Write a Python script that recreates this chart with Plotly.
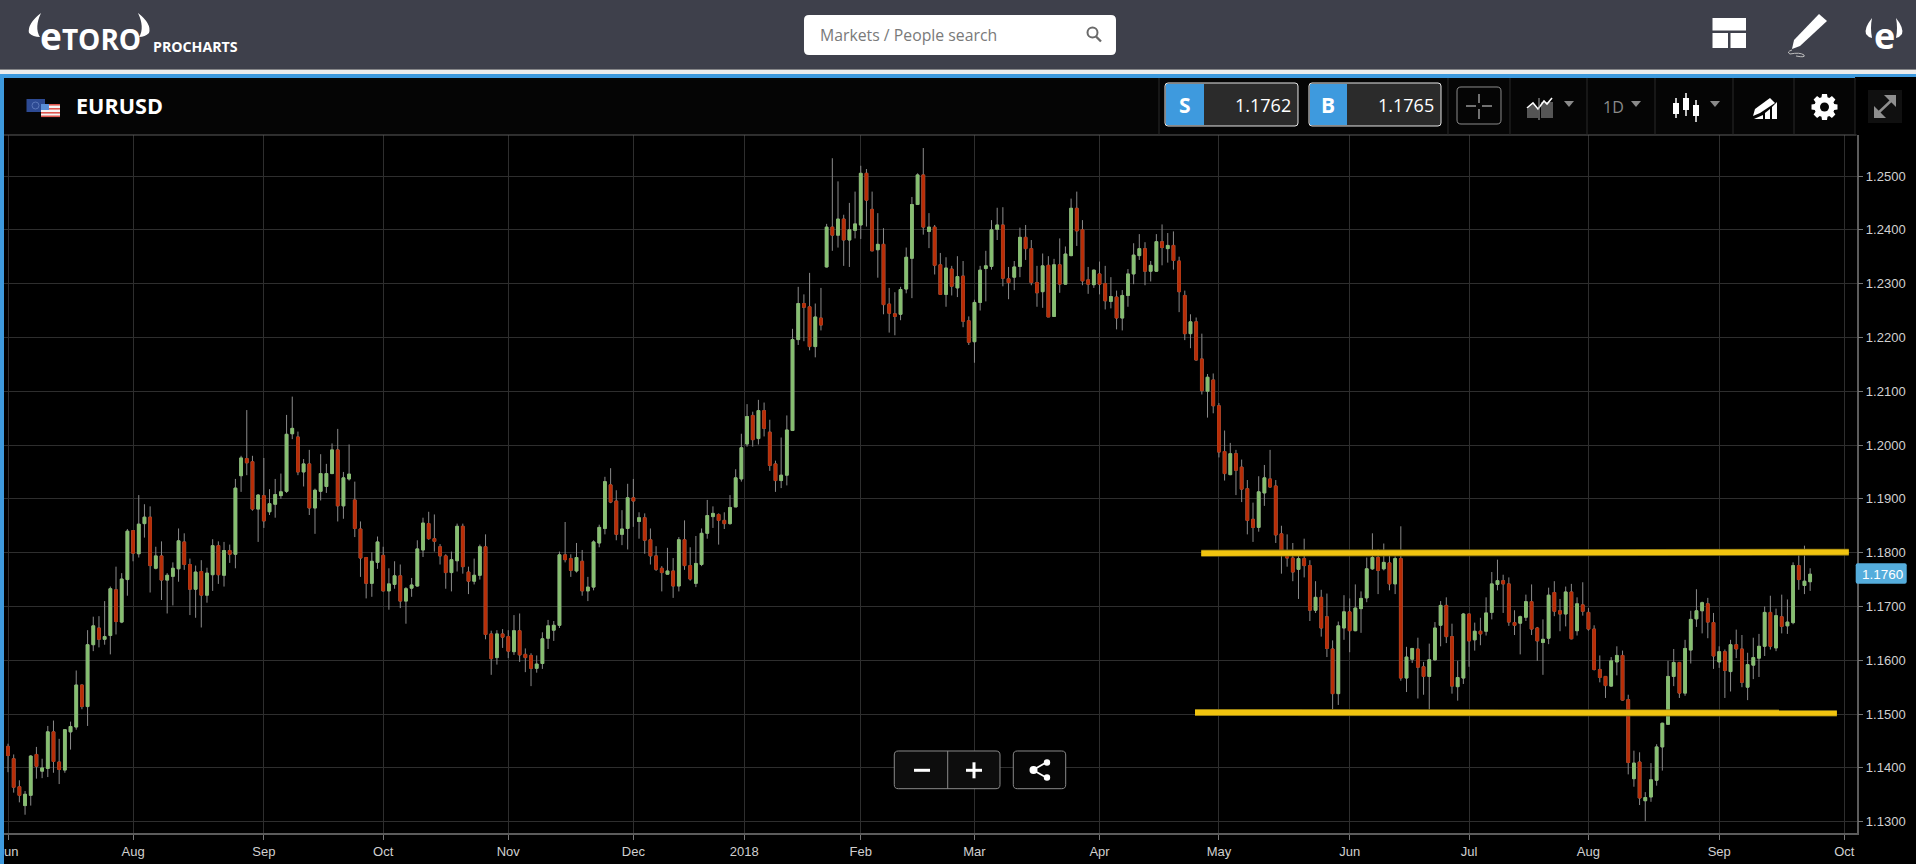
import math
import re
import plotly.graph_objects as go

# ---------- data (EURUSD daily, prices in 1/10000) ----------
OPEN = [
 11440,11417,11365,11330,11349,11425,11394,11399,11467,11411,
 11396,11467,11476,11554,11514,11629,11660,11639,11646,11731,
 11671,11750,11841,11798,11854,11866,11771,11794,11749,11756,
 11770,11820,11778,11732,11765,11721,11759,11813,11758,11804,
 11797,11943,11975,11969,11881,11906,11876,11890,11906,11914,
 12021,12015,11950,11965,11883,11914,11923,11947,11991,11887,
 11937,11898,11844,11791,11743,11782,11795,11729,11741,11757,
 11710,11734,11738,11805,11854,11826,11811,11794,11763,11785,
 11849,11764,11747,11758,11811,11649,11605,11649,11644,11616,
 11655,11611,11609,11585,11594,11641,11656,11665,11796,11789,
 11766,11784,11729,11736,11818,11845,11926,11896,11834,11845,
 11902,11858,11865,11824,11794,11771,11760,11766,11738,11824,
 11776,11743,11778,11836,11867,11871,11860,11854,11885,11937,
 12002,12055,12012,12064,12024,11965,11934,11944,12027,12196,
 12263,12257,12183,12236,12331,12405,12390,12420,12381,12399,
 12409,12505,12438,12363,12373,12262,12244,12243,12290,12347,
 12447,12502,12397,12405,12335,12280,12327,12292,12314,12231,
 12192,12265,12328,12332,12401,12409,12309,12312,12332,12386,
 12365,12302,12285,12334,12239,12335,12299,12352,12440,12400,
 12307,12298,12318,12300,12267,12275,12236,12278,12318,12352,
 12365,12323,12323,12378,12365,12371,12342,12278,12207,12229,
 12160,12100,12121,12073,11988,11945,11984,11959,11919,11862,
 11847,11911,11937,11924,11835,11803,11790,11769,11789,11776,
 11693,11717,11681,11621,11538,11660,11690,11655,11696,11716,
 11770,11791,11770,11781,11742,11789,11567,11602,11621,11588,
 11570,11601,11665,11702,11644,11551,11567,11686,11638,11654,
 11654,11689,11741,11748,11742,11670,11669,11680,11709,11660,
 11633,11641,11726,11692,11686,11727,11655,11703,11689,11658,
 11583,11570,11552,11597,11609,11527,11380,11411,11339,11346,
 11377,11439,11481,11570,11596,11539,11619,11677,11692,11705,
 11670,11597,11616,11579,11629,11621,11550,11591,11604,11626,
 11689,11623,11681,11664,11670,11776,11739,11746]
HIGH = [
 11445,11425,11377,11357,11424,11439,11417,11478,11488,11454,
 11472,11486,11581,11555,11656,11681,11682,11710,11737,11774,
 11762,11844,11842,11907,11890,11886,11811,11821,11762,11782,
 11845,11836,11789,11776,11786,11772,11825,11821,11820,11815,
 11937,11980,12065,11980,11909,11976,11918,11937,11947,12056,
 12090,12025,11974,11991,11919,11983,11965,12003,12030,11950,
 12001,11932,11858,11792,11801,11830,11811,11771,11784,11778,
 11736,11753,11823,11865,11876,11871,11816,11797,11802,11854,
 11854,11774,11789,11815,11834,11655,11656,11658,11656,11684,
 11687,11622,11613,11609,11652,11675,11673,11802,11857,11797,
 11818,11805,11755,11823,11852,11941,11957,11916,11879,11928,
 11937,11875,11873,11845,11812,11775,11809,11790,11829,11860,
 11810,11831,11845,11898,11886,11873,11875,11907,11955,12021,
 12076,12062,12084,12079,12047,11971,12014,12055,12216,12294,
 12280,12320,12263,12292,12411,12533,12490,12428,12450,12471,
 12519,12513,12471,12431,12403,12292,12284,12294,12367,12461,
 12505,12552,12431,12409,12357,12349,12333,12351,12342,12239,
 12270,12333,12361,12418,12441,12442,12331,12342,12404,12409,
 12381,12333,12356,12351,12346,12384,12369,12458,12471,12418,
 12331,12326,12341,12333,12312,12287,12288,12327,12375,12392,
 12377,12342,12392,12410,12394,12397,12350,12287,12243,12237,
 12207,12132,12133,12078,12027,12004,11991,11973,11935,11893,
 11942,11963,11991,11935,11850,11834,11818,11799,11826,11786,
 11747,11731,11724,11637,11672,11721,11715,11741,11728,11791,
 11836,11806,11817,11805,11793,11849,11625,11622,11642,11597,
 11631,11671,11710,11717,11668,11599,11688,11686,11670,11679,
 11717,11764,11787,11759,11754,11693,11683,11722,11741,11662,
 11676,11735,11747,11714,11737,11742,11717,11745,11697,11665,
 11609,11570,11606,11626,11618,11536,11432,11429,11355,11409,
 11444,11484,11599,11621,11597,11638,11692,11732,11709,11716,
 11688,11626,11620,11638,11657,11647,11614,11642,11649,11700,
 11720,11696,11722,11713,11782,11800,11813,11771]
LOW = [
 11392,11354,11336,11313,11330,11380,11381,11383,11391,11370,
 11391,11434,11471,11509,11478,11617,11624,11629,11611,11648,
 11669,11720,11784,11791,11828,11726,11769,11712,11687,11702,
 11746,11768,11684,11679,11661,11707,11729,11742,11737,11781,
 11771,11913,11944,11878,11820,11846,11870,11865,11900,11911,
 12011,11944,11923,11870,11835,11897,11911,11946,11858,11863,
 11934,11829,11755,11715,11718,11770,11728,11694,11733,11697,
 11668,11718,11737,11792,11824,11802,11778,11733,11728,11765,
 11761,11723,11741,11750,11639,11573,11592,11623,11604,11610,
 11597,11578,11552,11577,11584,11621,11636,11660,11782,11755,
 11763,11720,11710,11730,11810,11834,11892,11823,11814,11806,
 11848,11826,11798,11778,11766,11728,11760,11716,11728,11768,
 11748,11736,11775,11826,11846,11815,11844,11852,11885,11932,
 11997,11997,12001,12016,11952,11913,11920,11925,12026,12186,
 12193,12176,12163,12213,12330,12361,12367,12333,12331,12384,
 12383,12406,12360,12311,12243,12209,12204,12232,12282,12273,
 12446,12391,12366,12317,12279,12257,12278,12275,12219,12186,
 12153,12250,12267,12326,12381,12295,12271,12288,12312,12344,
 12297,12257,12255,12238,12238,12283,12298,12351,12370,12297,
 12281,12292,12280,12252,12254,12215,12213,12257,12299,12344,
 12297,12304,12322,12334,12339,12326,12247,12195,12180,12157,
 12094,12051,12059,11977,11934,11944,11907,11894,11834,11820,
 11839,11887,11921,11818,11761,11774,11747,11714,11754,11673,
 11688,11644,11606,11508,11517,11638,11615,11654,11651,11708,
 11768,11723,11767,11730,11723,11562,11541,11595,11529,11536,
 11508,11599,11626,11632,11538,11525,11556,11588,11618,11628,
 11646,11676,11730,11688,11664,11647,11611,11673,11647,11599,
 11573,11630,11682,11654,11663,11639,11646,11683,11655,11581,
 11559,11530,11551,11572,11525,11388,11365,11331,11301,11337,
 11367,11395,11480,11552,11530,11534,11594,11662,11650,11641,
 11584,11586,11530,11542,11604,11550,11526,11565,11569,11608,
 11620,11617,11650,11649,11667,11731,11723,11729]
CLOSE = [
 11423,11364,11349,11351,11422,11403,11400,11467,11412,11397,
 11471,11477,11554,11514,11629,11664,11639,11644,11733,11672,
 11751,11840,11799,11853,11866,11776,11794,11749,11758,11771,
 11822,11778,11732,11764,11721,11762,11813,11759,11804,11797,
 11920,11976,11967,11881,11907,11859,11891,11908,11913,12020,
 12031,11950,11965,11883,11916,11947,11947,11991,11887,11939,
 11946,11845,11790,11743,11784,11820,11729,11742,11757,11710,
 11733,11740,11807,11855,11826,11821,11794,11763,11787,11849,
 11774,11747,11758,11811,11648,11603,11649,11643,11617,11655,
 11610,11605,11585,11593,11640,11664,11665,11796,11787,11767,
 11791,11729,11736,11820,11847,11932,11894,11834,11844,11902,
 11896,11865,11823,11794,11769,11763,11766,11738,11824,11776,
 11751,11780,11836,11869,11873,11860,11854,11884,11939,11995,
 12053,12010,12064,12031,11962,11934,11944,12028,12196,12263,
 12256,12183,12238,12223,12405,12390,12420,12381,12400,12411,
 12505,12455,12361,12373,12261,12245,12239,12289,12349,12447,
 12502,12405,12405,12334,12280,12329,12295,12313,12230,12191,
 12265,12325,12333,12400,12409,12310,12302,12331,12386,12365,
 12302,12283,12333,12238,12335,12299,12355,12440,12398,12305,
 12299,12325,12299,12268,12276,12236,12278,12318,12353,12365,
 12323,12334,12378,12367,12371,12343,12285,12207,12229,12158,
 12101,12126,12073,11987,11947,11984,11953,11918,11860,11847,
 11913,11939,11922,11833,11804,11790,11764,11789,11776,11693,
 11717,11660,11622,11538,11664,11690,11655,11697,11715,11770,
 11791,11767,11782,11742,11789,11567,11606,11622,11587,11570,
 11601,11660,11702,11644,11552,11568,11686,11636,11654,11649,
 11688,11742,11748,11742,11671,11665,11681,11709,11658,11636,
 11639,11721,11691,11686,11727,11640,11705,11691,11658,11583,
 11568,11553,11599,11609,11526,11410,11409,11344,11345,11378,
 11439,11483,11570,11596,11539,11622,11676,11692,11707,11671,
 11608,11616,11581,11629,11621,11559,11592,11605,11626,11689,
 11626,11683,11663,11671,11776,11750,11747,11760]

X_TICK_BARS = [0, 22, 45, 66, 88, 110, 129.5, 150, 170, 192, 213, 236, 257, 278, 301, 323]
X_TICK_LABELS = ["Jun", "Aug", "Sep", "Oct", "Nov", "Dec", "2018", "Feb", "Mar", "Apr",
                 "May", "Jun", "Jul", "Aug", "Sep", "Oct"]
Y_TICKS = [1.13, 1.14, 1.15, 1.16, 1.17, 1.18, 1.19, 1.20, 1.21, 1.22, 1.23, 1.24, 1.25]
RES_BARS, RES_PRICES = [209.9, 323.8], [1.1799, 1.1801]
SUP_BARS, SUP_PRICES = [208.8, 321.7], [1.1503, 1.1502]
LAST_PRICE = 1.1760
SELL, BUY = "1.1762", "1.1765"

# ---------- page geometry ----------
W, H = 1916, 864
PLOT_L, PLOT_R, PLOT_T, PLOT_B = 4, 1856.5, 135, 833.3
BAR_PX, BAR0_PX = 5.685, 8.0
Y_PX_PER_UNIT, Y125_PX = 53810 / 10, 176.0

GREEN, RED, WICK = "#86bf70", "#b92d06", "#8a8a8a"
GRID, AXIS = "#2e2e2e", "#5c5c5c"
BLUE = "#3e9ade"
HEAD = "#3e404b"
YELLOW = "#f1c40f"

px2val = lambda y: 1.25 - (y - Y125_PX) / Y_PX_PER_UNIT
px2bar = lambda x: (x - BAR0_PX) / BAR_PX

opens = [v / 1e4 for v in OPEN]
highs = [v / 1e4 for v in HIGH]
lows = [v / 1e4 for v in LOW]
closes = [v / 1e4 for v in CLOSE]
bars = list(range(len(opens)))
tops = [max(a, b) for a, b in zip(opens, closes)]
bots = [min(a, b) for a, b in zip(opens, closes)]

fig = go.Figure()
# full range candles give the grey wicks, body-only candles sit on top of them
fig.add_trace(go.Candlestick(
    x=bars, open=opens, high=highs, low=lows, close=closes, whiskerwidth=0,
    increasing=dict(line=dict(color=WICK, width=1), fillcolor=WICK),
    decreasing=dict(line=dict(color=WICK, width=1), fillcolor=WICK), hoverinfo="skip"))
fig.add_trace(go.Candlestick(
    x=bars, open=opens, high=tops, low=bots, close=closes, whiskerwidth=0,
    increasing=dict(line=dict(color=GREEN, width=0.8), fillcolor=GREEN),
    decreasing=dict(line=dict(color=RED, width=0.8), fillcolor=RED), hoverinfo="skip"))
for xs, ys in ((RES_BARS, RES_PRICES), (SUP_BARS, SUP_PRICES)):
    fig.add_trace(go.Scatter(x=xs, y=ys, mode="lines", line=dict(color="#7d6a12", width=7), hoverinfo="skip"))
    fig.add_trace(go.Scatter(x=xs, y=ys, mode="lines", line=dict(color=YELLOW, width=5.4), hoverinfo="skip"))

# ---------- page furniture helpers ----------
shapes, notes = [], []

def fx(x): return x / W
def fy(y): return 1 - y / H

def rect(x0, y0, x1, y1, fill=None, line=None, lw=1):
    shapes.append(dict(type="rect", xref="paper", yref="paper", x0=fx(x0), x1=fx(x1), y0=fy(y0), y1=fy(y1),
                       fillcolor=fill or "rgba(0,0,0,0)",
                       line=dict(color=line or "rgba(0,0,0,0)", width=lw if line else 0), layer="above"))

def path(d, fill=None, line=None, lw=1):
    toks = re.findall(r"[A-Za-z]|-?\d+\.?\d*", d)
    out, isx = [], True
    for t in toks:
        if t.isalpha():
            out.append(t); isx = True
        else:
            v = float(t)
            out.append(f"{fx(v):.5f}" if isx else f"{fy(v):.5f}")
            isx = not isx
    shapes.append(dict(type="path", xref="paper", yref="paper", path=" ".join(out),
                       fillcolor=fill or "rgba(0,0,0,0)",
                       line=dict(color=line or "rgba(0,0,0,0)", width=lw if line else 0), layer="above"))

def rrect(x0, y0, x1, y1, r=4, fill=None, line=None, lw=1):
    path(f"M {x0+r} {y0} L {x1-r} {y0} Q {x1} {y0} {x1} {y0+r} L {x1} {y1-r} Q {x1} {y1} {x1-r} {y1} "
         f"L {x0+r} {y1} Q {x0} {y1} {x0} {y1-r} L {x0} {y0+r} Q {x0} {y0} {x0+r} {y0} Z", fill, line, lw)

def seg(x0, y0, x1, y1, color, lw=1):
    path(f"M {x0} {y0} L {x1} {y1}", None, color, lw)

def circle(cx, cy, r, fill=None, line=None, lw=1):
    shapes.append(dict(type="circle", xref="paper", yref="paper", x0=fx(cx - r), x1=fx(cx + r),
                       y0=fy(cy - r), y1=fy(cy + r), fillcolor=fill or "rgba(0,0,0,0)",
                       line=dict(color=line or "rgba(0,0,0,0)", width=lw if line else 0), layer="above"))

def text(x, y, s, size, color="#ffffff", anchor="left", bold=False, family="Open Sans"):
    notes.append(dict(xref="paper", yref="paper", x=fx(x), y=fy(y), text=f"<b>{s}</b>" if bold else s,
                      showarrow=False, xanchor=anchor, yanchor="middle",
                      font=dict(size=size, color=color, family=family), borderpad=0, borderwidth=0))

# top bar and stripes
rect(0, 0, W, 69.5, HEAD)
rect(0, 69.5, W, 74, "#ececec")
rect(0, 74, W, 78, BLUE)
rect(0, 78, W, 135, "#050505")
rect(1855, 77, W, 135, "#000000")
rect(0, 74, 4, H, BLUE)
seg(4, 135, PLOT_R, 135, AXIS, 1)

# logo
text(40, 35, "<span style='font-size:37px'>e</span>TORO", 28, "#ffffff", "left", True)
path("M 41 13 Q 27 24 29 33 Q 33 37 40 37 Q 34 28 41 13 Z", "#ffffff")
path("M 138 13 Q 152 24 149 33 Q 145 37 139 37 Q 145 28 138 13 Z", "#ffffff")
text(153, 47, "PROCHARTS", 14.2, "#ffffff", "left", True)

# search box
rrect(804, 15, 1116, 55, 5, "#ffffff")
text(820, 34.5, "Markets / People search", 15.8, "#7a7a7a")
circle(1092.5, 32.5, 5, None, "#6a6a6a", 2)
seg(1096, 36.5, 1101, 41.5, "#6a6a6a", 2.4)

# right hand header icons
rect(1712.5, 18, 1746, 30.5, "#ffffff")
rect(1712.5, 33, 1728, 48, "#ffffff")
rect(1730.5, 33, 1746, 48, "#ffffff")
path("M 1819 14 L 1827 21 L 1800 46 L 1792 49 L 1794 40 Z", "#ffffff")
path("M 1792 50 Q 1786 52 1790 54 Q 1800 52 1804 55 Q 1806 58 1796 56", None, "#bdbdbd", 1)
text(1884, 35, "e", 36, "#ffffff", "center", True)
path("M 1872 18 Q 1864 28 1866 34 Q 1868 37 1872 38 Q 1870 28 1872 18 Z", "#ffffff")
path("M 1896 18 Q 1904 28 1902 34 Q 1900 37 1896 38 Q 1898 28 1896 18 Z", "#ffffff")

# symbol and flags
rect(26.5, 99, 45, 112, "#2d4a93")
circle(35.5, 105.5, 3.5, None, "#5a76b8", 1)
rect(41, 104, 60, 117, "#f5f5f5")
for yy in (104, 108, 112, 115.5):
    rect(41, yy, 60, yy + 1.6, "#e0574f")
rect(41, 104, 49, 110, "#5b8fd8")
text(76, 105.5, "EURUSD", 21.6, "#ffffff", "left", True)

# sell / buy boxes
for x0, x1, mid, lab, val in ((1165, 1298, 1204, "S", SELL), (1309, 1441, 1347, "B", BUY)):
    rrect(x0, 83, x1, 126, 3, "#2b2b2b", "#e6e6e6", 1)
    rect(x0 + 1, 84, mid, 125, BLUE)
    text((x0 + mid) / 2, 105, lab, 21, "#ffffff", "center", True)
    text(x1 - 7, 105, val, 18, "#ffffff", "right")

# toolbar separators
for xs in (1159, 1448, 1510, 1587, 1655, 1733, 1794, 1855):
    seg(xs, 78, xs, 135, "#2a2a2a", 1)

# crosshair
rrect(1457, 87, 1501, 124, 4, "#050505", "#8c8c8c", 1)
seg(1466, 106, 1476, 106, "#bbbbbb", 1.2)
seg(1482, 106, 1492, 106, "#bbbbbb", 1.2)
seg(1479, 94, 1479, 103, "#bbbbbb", 1.2)
seg(1479, 109, 1479, 119, "#bbbbbb", 1.2)
# chart type icon
path("M 1527 118 L 1527 109 L 1533 104 L 1538 110 L 1538 118 Z", "#555555")
rect(1541, 102, 1553, 118, "#555555")
path("M 1527 108 L 1533 103 L 1538 109 L 1544 101 L 1547 104 L 1552 98", None, "#ffffff", 1.6)
seg(1539, 98, 1539, 120, "#aaaaaa", 1)
# carets
for cx, cy, col in ((1569, 104, "#8a8a8a"), (1636, 104, "#8a8a8a"), (1715, 104, "#8a8a8a")):
    path(f"M {cx-5} {cy-3} L {cx+5} {cy-3} L {cx} {cy+3} Z", col)
text(1613, 107, "1D", 16, "#8a8a8a", "center")
# candle icon
for cx, a, b, c, d in ((1676, 98, 103, 114, 118), (1686, 93, 98, 110, 116), (1696, 100, 105, 116, 122)):
    seg(cx, a, cx, d, "#ffffff", 1.5)
    rect(cx - 3, b, cx + 3, c, "#ffffff")
# draw icon: pencil over a rising bar fan
path("M 1770 98 L 1775 103 L 1760 113 L 1753 116 L 1755 109 Z", "#ffffff")
path("M 1777 102 L 1777 119 L 1772 119 L 1772 107 Z", "#ffffff")
path("M 1770 109 L 1770 119 L 1765 119 L 1765 113 Z", "#ffffff")
path("M 1763 115 L 1763 119 L 1754 119 Z", "#ffffff")
# gear
gcx, gcy = 1824.5, 107
pts = []
for i in range(8):
    a = i * math.pi / 4
    for da, r in ((-0.30, 10.2), (-0.19, 13.2), (0.19, 13.2), (0.30, 10.2)):
        pts.append((gcx + r * math.cos(a + da), gcy + r * math.sin(a + da)))
path("M " + " L ".join(f"{p[0]:.1f} {p[1]:.1f}" for p in pts) + " Z", "#ffffff")
circle(gcx, gcy, 4.5, "#050505")
# expand
rect(1868, 90, 1902, 123, "#101010")
seg(1876, 115, 1894, 98, "#8f8f8f", 2.5)
path("M 1874 106 L 1874 118 L 1886 118 Z", "#8f8f8f")
path("M 1896 95 L 1884 95 L 1896 107 Z", "#8f8f8f")

# last price flag
rrect(1855.7, 563.3, 1906.7, 583.7, 2, "#55addc")
notes.append(dict(xref="paper", yref="y", x=fx(1882), y=LAST_PRICE - 0.00003, text=f"{LAST_PRICE:.4f}", showarrow=False,
                  xanchor="center", yanchor="middle",
                  font=dict(size=13.5, color="#ffffff", family="Liberation Sans")))

# zoom and share buttons
rrect(894.3, 751, 1000, 788.7, 4, "#0d0d0d", "#8a8a8a", 1)
seg(947.7, 751, 947.7, 788.7, "#8a8a8a", 1)
seg(914, 770.3, 930, 770.3, "#ffffff", 3)
seg(966, 770.3, 982, 770.3, "#ffffff", 3)
seg(974, 762.3, 974, 778.3, "#ffffff", 3)
rrect(1013.3, 751, 1065.7, 788.7, 4, "#060606", "#8a8a8a", 1)
seg(1033, 770, 1047, 762, "#ffffff", 1.8)
seg(1033, 770, 1047, 778, "#ffffff", 1.8)
circle(1033.5, 770, 4, "#ffffff")
circle(1047, 762.5, 3.2, "#ffffff")
circle(1047, 777.5, 3.2, "#ffffff")

tick_font = dict(size=13, color="#d0d0d0", family="Liberation Sans")
fig.update_layout(
    width=W, height=H, autosize=False, margin=dict(l=0, r=0, t=0, b=0, pad=0, autoexpand=False),
    paper_bgcolor="#000000", plot_bgcolor="#000000", showlegend=False,
    shapes=shapes, annotations=notes,
    xaxis=dict(domain=[PLOT_L / W, PLOT_R / W], range=[px2bar(PLOT_L), px2bar(PLOT_R)],
               tickmode="array", tickvals=X_TICK_BARS, ticktext=X_TICK_LABELS, ticks="outside",
               ticklen=5, tickwidth=1, tickcolor="#777777", showgrid=True, gridcolor=GRID, gridwidth=1,
               zeroline=False, showline=True, linecolor=AXIS, linewidth=1.5, tickfont=tick_font,
               rangeslider=dict(visible=False), ticklabeloverflow="allow", anchor="y", fixedrange=True),
    yaxis=dict(domain=[1 - PLOT_B / H, 1 - PLOT_T / H], range=[px2val(PLOT_B), px2val(PLOT_T)], side="right",
               tickmode="array", tickvals=Y_TICKS, tickformat=".4f", ticks="outside", ticklen=5, tickwidth=1,
               tickcolor="#777777", showgrid=True, gridcolor=GRID, gridwidth=1, zeroline=False, showline=True,
               linecolor=AXIS, linewidth=1.5, tickfont=tick_font, anchor="x", fixedrange=True),
)

fig.write_html("out.html", config=dict(displayModeBar=False),
               post_script="document.documentElement.style.margin='0';document.body.style.margin='0';"
                           "document.body.style.background='#000';document.body.style.overflow='hidden';"
                           "document.querySelectorAll('.plotly-graph-div,.plot-container,.svg-container')"
                           ".forEach(function(e){e.style.margin='0';e.style.position='absolute';"
                           "e.style.left='0';e.style.top='0';});")
